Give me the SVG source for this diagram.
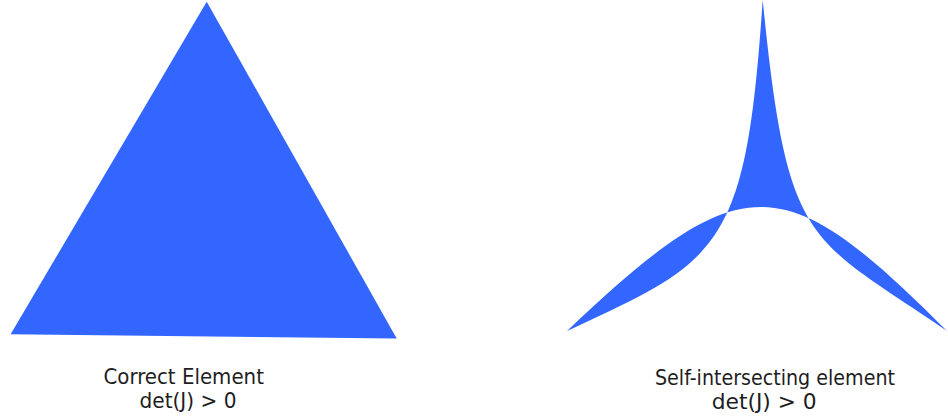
<svg xmlns="http://www.w3.org/2000/svg" width="948" height="416" viewBox="0 0 948 416">
<style>
.el{fill:#3366ff;stroke:none}
.lbl{font-family:"DejaVu Sans Condensed","DejaVu Sans",Verdana,sans-serif;font-size:21.5px;fill:#1e1e1e;text-anchor:middle}
</style>
<rect width="948" height="416" fill="#ffffff"/>
<g id="correct-element">
<polygon class="el" points="206.7,1.7 10.6,334.3 396.7,338.4"/>
<text class="lbl" x="183.7" y="384" textLength="160.5" lengthAdjust="spacingAndGlyphs">Correct Element</text>
<text class="lbl" x="188" y="408" textLength="97" lengthAdjust="spacingAndGlyphs">det(J) &gt; 0</text>
</g>
<g id="self-intersecting-element">
<path class="el" fill-rule="nonzero" d="M762.7,0 C745.95,250 721.4,259.8 567,331 C743.4,163.4 784,168 947,331 C807,234.8 787.7,250 762.7,0 Z"/>
<text class="lbl" x="775" y="384.5" textLength="240" lengthAdjust="spacingAndGlyphs">Self-intersecting element</text>
<text class="lbl" x="764.2" y="408.5" textLength="105" lengthAdjust="spacingAndGlyphs">det(J) &gt; 0</text>
</g>
</svg>
